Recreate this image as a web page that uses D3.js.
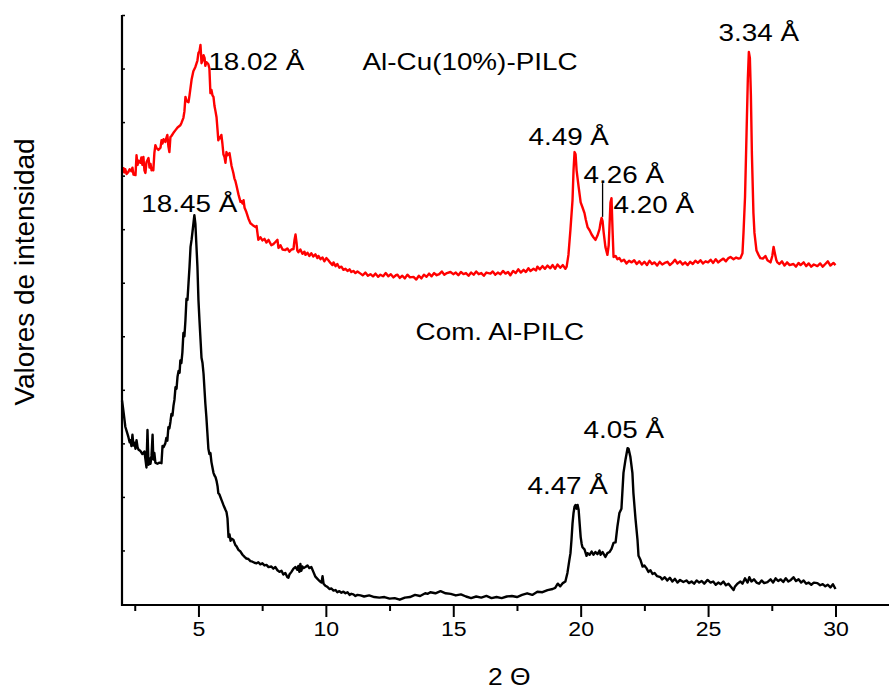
<!DOCTYPE html>
<html>
<head>
<meta charset="utf-8">
<script src="https://cdn.jsdelivr.net/npm/d3@7"></script>
<style>
  body { margin: 0; background: #fff; }
  svg { display: block; font-family: "Liberation Sans", Arial, sans-serif; }
</style>
</head>
<body>
<svg id="chart" width="889" height="690"></svg>
<script>
// XRD patterns, 2 theta (deg) vs intensity (arbitrary units, offset)

var comTheta = [2.00,2.03,2.07,2.13,2.20,2.25,2.30,2.33,2.37,2.41,2.45,2.49,2.53,2.57,2.61,2.65,2.72,2.80,2.88,2.92,
  2.96,3.00,3.04,3.08,3.12,3.16,3.20,3.23,3.27,3.31,3.39,3.47,3.55,3.59,3.63,3.70,3.74,3.78,3.82,3.86,
  3.90,3.94,3.98,4.02,4.06,4.10,4.14,4.18,4.22,4.26,4.29,4.33,4.37,4.41,4.45,4.49,4.53,4.57,4.61,4.65,
  4.69,4.73,4.79,4.84,4.88,4.92,4.96,5.00,5.04,5.08,5.12,5.16,5.20,5.27,5.31,5.35,5.39,5.43,5.47,5.51,
  5.55,5.59,5.63,5.67,5.71,5.75,5.78,5.82,5.90,5.98,6.06,6.10,6.14,6.18,6.22,6.26,6.30,6.37,6.45,6.49,
  6.57,6.65,6.73,6.81,6.88,6.96,7.04,7.12,7.20,7.28,7.35,7.43,7.51,7.59,7.67,7.75,7.86,7.94,8.02,8.10,
  8.18,8.26,8.33,8.41,8.49,8.53,8.57,8.65,8.73,8.81,8.88,8.92,8.96,9.00,9.04,9.08,9.12,9.20,9.28,9.35,
  9.43,9.51,9.59,9.67,9.75,9.83,9.87,9.91,9.98,10.06,10.14,10.22,10.30,10.38,10.45,10.53,10.61,10.69,10.77,10.85,
  10.93,11.00,11.08,11.16,11.24,11.36,11.5,11.7,11.9,12.1,12.3,12.5,12.7,12.9,13.1,13.3,13.5,13.7,13.9,14.0,
  14.1,14.3,14.5,14.7,14.9,15.1,15.3,15.5,15.7,15.9,16.1,16.3,16.5,16.7,16.9,17.1,17.3,17.5,17.7,17.9,
  18.1,18.3,18.5,18.7,18.9,19.0,19.1,19.2,19.3,19.4,19.48,19.55,19.60,19.64,19.68,19.72,19.76,19.80,19.84,19.88,
  19.92,19.96,20.00,20.04,20.07,20.15,20.23,20.27,20.35,20.43,20.50,20.58,20.66,20.74,20.78,20.86,20.97,21.05,21.13,21.21,
  21.29,21.37,21.44,21.52,21.60,21.68,21.76,21.84,21.88,21.95,22.03,22.07,22.15,22.23,22.27,22.35,22.43,22.50,22.58,22.66,
  22.74,22.82,22.90,23.00,23.13,23.20,23.30,23.40,23.50,23.60,23.70,23.80,23.90,24.03,24.15,24.25,24.35,24.45,24.55,24.65,
  24.75,24.85,24.98,25.10,25.20,25.30,25.40,25.50,25.60,25.70,25.80,25.88,26.00,26.05,26.15,26.27,26.35,26.45,26.55,26.62,
  26.70,26.80,26.90,27.00,27.10,27.20,27.33,27.45,27.55,27.65,27.75,27.85,27.95,28.05,28.15,28.25,28.35,28.45,28.55,28.65,
  28.75,28.85,28.95,29.05,29.15,29.29,29.40,29.50,29.60,29.70,29.80,29.90,30.00];
var comIntensity = [3.80,3.70,3.55,3.31,3.20,3.12,3.02,3.06,2.95,3.16,2.96,3.01,2.90,3.06,2.93,2.88,2.86,2.80,2.85,2.70,
  2.55,3.25,2.60,2.72,2.62,2.78,3.16,2.70,2.82,2.64,2.62,2.64,2.63,2.95,2.93,3.00,3.10,3.05,3.30,3.28,
  3.40,3.55,3.52,3.70,3.82,4.05,4.02,4.25,4.35,4.32,4.55,4.50,4.70,5.06,5.00,5.30,5.70,5.68,5.99,6.30,
  6.67,6.80,7.05,7.26,7.10,6.70,6.30,5.68,5.30,4.95,4.60,4.50,4.30,3.75,3.50,3.20,2.90,2.80,2.82,2.65,
  2.55,2.45,2.40,2.37,2.30,2.20,2.07,2.05,1.95,1.85,1.76,1.72,1.60,1.25,1.30,1.18,1.22,1.20,1.10,1.08,
  1.01,0.98,0.92,0.88,0.85,0.84,0.80,0.79,0.77,0.76,0.78,0.74,0.76,0.72,0.73,0.69,0.70,0.66,0.69,0.63,
  0.60,0.62,0.55,0.58,0.50,0.49,0.55,0.60,0.66,0.69,0.64,0.71,0.60,0.75,0.62,0.70,0.67,0.69,0.72,0.67,
  0.69,0.60,0.51,0.47,0.43,0.40,0.52,0.38,0.34,0.32,0.28,0.29,0.25,0.26,0.22,0.24,0.21,0.23,0.20,0.22,
  0.17,0.19,0.18,0.15,0.17,0.16,0.14,0.16,0.13,0.12,0.13,0.10,0.11,0.08,0.12,0.13,0.17,0.15,0.20,0.19,
  0.22,0.20,0.24,0.20,0.19,0.16,0.18,0.14,0.11,0.14,0.12,0.15,0.11,0.13,0.11,0.14,0.15,0.13,0.17,0.20,
  0.17,0.23,0.22,0.26,0.28,0.30,0.38,0.33,0.39,0.42,0.58,0.80,0.95,1.20,1.50,1.70,1.82,1.85,1.78,1.85,
  1.76,1.50,1.25,1.12,1.06,1.02,0.90,0.95,0.92,0.98,0.92,0.97,0.93,1.00,0.92,0.97,0.88,0.95,0.97,1.03,
  1.14,1.15,1.44,1.70,1.78,2.45,2.70,2.91,2.90,2.75,2.45,2.07,1.60,1.20,0.90,0.82,0.70,0.72,0.67,0.60,
  0.63,0.56,0.58,0.52,0.50,0.46,0.50,0.44,0.49,0.42,0.47,0.40,0.45,0.41,0.44,0.39,0.42,0.38,0.44,0.40,
  0.43,0.38,0.45,0.40,0.42,0.36,0.40,0.37,0.42,0.35,0.38,0.33,0.26,0.32,0.38,0.42,0.38,0.48,0.40,0.50,
  0.42,0.46,0.40,0.38,0.44,0.39,0.41,0.46,0.40,0.48,0.43,0.46,0.41,0.48,0.42,0.45,0.50,0.43,0.46,0.40,
  0.44,0.38,0.40,0.36,0.40,0.39,0.35,0.37,0.33,0.36,0.31,0.37,0.28];

var cuTheta = [2.00,2.06,2.10,2.13,2.18,2.25,2.30,2.37,2.41,2.45,2.53,2.57,2.61,2.65,2.72,2.76,2.80,2.84,2.88,2.92,
  2.96,3.04,3.08,3.12,3.16,3.20,3.23,3.27,3.31,3.35,3.39,3.43,3.51,3.55,3.59,3.63,3.70,3.74,3.78,3.82,
  3.86,3.90,3.94,4.02,4.10,4.18,4.29,4.33,4.41,4.45,4.49,4.53,4.57,4.61,4.65,4.73,4.80,4.88,4.96,5.00,
  5.04,5.08,5.12,5.16,5.20,5.24,5.27,5.31,5.35,5.39,5.43,5.47,5.51,5.55,5.59,5.63,5.67,5.71,5.75,5.78,
  5.82,5.86,5.90,5.94,5.98,6.02,6.06,6.10,6.14,6.18,6.22,6.26,6.30,6.37,6.41,6.45,6.49,6.57,6.65,6.69,
  6.73,6.77,6.81,6.88,6.96,7.04,7.12,7.24,7.28,7.35,7.43,7.51,7.59,7.67,7.75,7.86,7.94,8.02,8.10,8.14,
  8.22,8.30,8.41,8.49,8.57,8.65,8.73,8.77,8.81,8.85,8.88,8.92,9.00,9.08,9.16,9.20,9.28,9.35,9.43,9.51,
  9.59,9.67,9.71,9.79,9.87,9.94,10.02,10.10,10.18,10.26,10.30,10.38,10.45,10.53,10.61,10.69,10.77,10.85,10.93,11.00,
  11.08,11.16,11.24,11.36,11.45,11.55,11.65,11.75,11.85,11.95,12.05,12.14,12.25,12.35,12.45,12.55,12.65,12.75,12.81,12.90,
  13.00,13.10,13.20,13.30,13.44,13.55,13.65,13.75,13.85,13.95,14.05,14.15,14.25,14.35,14.45,14.55,14.65,14.75,14.89,15.00,
  15.10,15.20,15.30,15.40,15.50,15.60,15.70,15.80,15.90,16.00,16.10,16.20,16.30,16.46,16.55,16.65,16.75,16.85,16.95,17.05,
  17.15,17.24,17.35,17.45,17.55,17.65,17.76,17.85,17.95,18.03,18.15,18.25,18.30,18.40,18.50,18.60,18.70,18.81,18.90,19.00,
  19.09,19.20,19.30,19.40,19.45,19.52,19.60,19.68,19.72,19.76,19.80,19.84,19.92,20.00,20.07,20.15,20.20,20.27,20.35,20.43,
  20.50,20.58,20.66,20.74,20.78,20.82,20.86,20.90,20.97,21.05,21.10,21.17,21.21,21.25,21.29,21.37,21.44,21.52,21.60,21.70,
  21.80,21.90,22.00,22.10,22.20,22.30,22.40,22.50,22.60,22.70,22.80,22.90,23.00,23.10,23.20,23.30,23.41,23.50,23.60,23.70,
  23.80,23.90,24.00,24.10,24.20,24.30,24.40,24.50,24.60,24.70,24.80,24.90,25.00,25.10,25.20,25.30,25.40,25.50,25.60,25.70,
  25.80,25.88,26.00,26.10,26.20,26.27,26.35,26.39,26.45,26.51,26.56,26.60,26.64,26.68,26.72,26.78,26.82,26.90,26.98,27.05,
  27.15,27.25,27.33,27.45,27.52,27.57,27.62,27.68,27.72,27.80,27.90,28.00,28.10,28.20,28.35,28.45,28.55,28.63,28.75,28.85,
  28.95,29.05,29.15,29.29,29.40,29.50,29.60,29.70,29.80,29.92,30.00];
var cuIntensity = [8.05,8.14,8.06,8.12,8.03,8.07,8.12,8.08,8.15,8.02,8.01,8.38,8.20,8.28,8.24,8.34,8.20,8.35,8.10,8.05,
  8.25,8.33,8.15,8.22,8.10,8.12,8.10,8.42,8.57,8.52,8.50,8.48,8.52,8.66,8.60,8.68,8.63,8.70,8.76,8.55,
  8.44,8.72,8.74,8.80,8.85,8.90,8.94,8.98,9.08,9.20,9.47,9.40,9.38,9.37,9.50,9.79,9.95,10.03,10.15,10.29,
  10.32,10.44,10.10,10.15,10.25,10.20,10.05,10.12,10.10,10.08,10.00,9.54,9.60,9.50,9.47,9.30,9.20,9.09,8.85,8.66,
  8.72,8.70,8.76,8.60,8.40,8.35,8.24,8.44,8.38,8.40,8.42,8.30,8.18,8.05,7.95,7.90,7.82,7.65,7.51,7.52,
  7.48,7.54,7.40,7.32,7.20,7.11,7.08,7.04,7.06,6.80,6.85,6.79,6.82,6.75,6.80,6.70,6.72,6.76,6.80,6.65,
  6.70,6.62,6.61,6.64,6.58,6.62,6.63,6.80,6.90,6.75,6.60,6.57,6.62,6.54,6.58,6.52,6.56,6.50,6.55,6.49,
  6.53,6.46,6.50,6.44,6.47,6.40,6.46,6.42,6.37,6.33,6.38,6.31,6.35,6.28,6.30,6.24,6.26,6.22,6.25,6.20,
  6.22,6.18,6.21,6.17,6.14,6.19,6.13,6.16,6.12,6.17,6.11,6.15,6.12,6.18,6.12,6.16,6.10,6.14,6.15,6.09,
  6.13,6.08,6.15,6.10,6.11,6.06,6.13,6.08,6.15,6.11,6.17,6.12,6.18,6.14,6.16,6.21,6.15,6.18,6.20,6.16,
  6.19,6.14,6.20,6.16,6.18,6.13,6.19,6.15,6.21,6.16,6.18,6.13,6.19,6.17,6.21,6.15,6.19,6.16,6.22,6.17,
  6.20,6.14,6.22,6.18,6.25,6.19,6.24,6.20,6.27,6.22,6.26,6.23,6.30,6.25,6.31,6.26,6.32,6.27,6.33,6.26,
  6.34,6.28,6.33,6.26,6.30,6.52,7.00,7.54,8.10,8.44,8.40,8.10,7.79,7.50,7.41,7.30,7.18,7.04,6.98,6.90,
  6.85,6.80,6.88,7.00,7.12,7.21,7.15,6.95,6.67,6.52,6.70,7.50,7.58,7.00,6.48,6.50,6.44,6.46,6.40,6.43,
  6.36,6.41,6.38,6.42,6.35,6.40,6.34,6.39,6.33,6.41,6.35,6.38,6.32,6.39,6.34,6.37,6.39,6.33,6.37,6.43,
  6.36,6.40,6.34,6.38,6.33,6.39,6.35,6.41,6.37,6.42,6.36,6.40,6.38,6.43,6.37,6.44,6.38,6.42,6.45,6.40,
  6.46,6.48,6.44,6.47,6.45,6.46,6.55,6.93,7.60,8.80,9.80,10.31,10.20,9.50,8.40,7.30,6.93,6.60,6.52,6.46,
  6.45,6.50,6.42,6.38,6.50,6.67,6.55,6.42,6.38,6.35,6.40,6.32,6.38,6.33,6.35,6.30,6.37,6.33,6.38,6.31,
  6.36,6.30,6.34,6.31,6.36,6.30,6.35,6.40,6.32,6.37,6.33];

// peak labels, anchored at their left baseline in data units
var labelText = ["18.02 Å", "Al-Cu(10%)-PILC", "3.34 Å", "4.49 Å", "4.26 Å", "4.20 Å",
                 "18.45 Å", "Com. Al-PILC", "4.05 Å", "4.47 Å"];
var labelTheta = [5.39, 11.44, 25.41, 17.95, 20.11, 21.29, 2.76, 13.52, 20.11, 17.91];
var labelIntensity = [9.97, 9.97, 10.51, 8.57, 7.86, 7.30, 7.32, 4.93, 3.10, 2.05];

// leader for the 4.26 Å shoulder
var leaderTheta = 20.86;
var leaderFrom = 7.86, leaderTo = 7.23;

var majorTicks = [5, 10, 15, 20, 25, 30];
var minorTicks = [2.5, 7.5, 12.5, 17.5, 22.5, 27.5];
var yTicks = d3.range(1, 12);

var svg = d3.select("#chart");
var plotLeft = 122, plotRight = 889, plotTop = 15, plotBottom = 604;

var x = d3.scaleLinear().domain([2, 32.1]).range([plotLeft, plotRight]);
var y = d3.scaleLinear().domain([0, 11]).range([plotBottom, plotTop]);

var line = d3.line()
    .x(function(d){ return x(d[0]); })
    .y(function(d){ return y(d[1]); });

function drawSeries(theta, vals, color){
    svg.append("path")
        .datum(d3.zip(theta, vals))
        .attr("fill", "none")
        .attr("stroke", color)
        .attr("stroke-width", 2.4)
        .attr("stroke-linejoin", "round")
        .attr("d", line);
}

drawSeries(cuTheta, cuIntensity, "#ff0000");
drawSeries(comTheta, comIntensity, "#000000");

// x axis: major ticks with labels, minor ticks without
var xMajor = svg.append("g")
    .attr("transform", "translate(0," + (plotBottom + 1) + ")")
    .call(d3.axisBottom(x).tickValues(majorTicks).tickSize(12).tickFormat(d3.format("d")));
xMajor.select(".domain").remove();
xMajor.selectAll("line").attr("stroke-width", 2);
xMajor.selectAll("text")
    .attr("font-size", 21)
    .attr("font-family", "Liberation Sans, Arial, sans-serif")
    .attr("fill", "#000")
    .attr("dy", null)
    .attr("y", 31)
    .attr("transform", "scale(1.1,1)");

var xMinor = svg.append("g")
    .attr("transform", "translate(0," + (plotBottom + 1) + ")")
    .call(d3.axisBottom(x).tickValues(minorTicks).tickSize(6).tickFormat(""));
xMinor.select(".domain").remove();
xMinor.selectAll("line").attr("stroke-width", 2);

// y axis: short inner ticks, no labels
var yAxis = svg.append("g")
    .attr("transform", "translate(" + plotLeft + ",0)")
    .call(d3.axisRight(y).tickValues(yTicks).tickSize(3).tickFormat(""));
yAxis.select(".domain").remove();
yAxis.selectAll("line").attr("stroke-width", 1.5);

// axis lines
svg.append("line")
    .attr("x1", plotLeft - 1).attr("x2", plotRight)
    .attr("y1", plotBottom + 1).attr("y2", plotBottom + 1)
    .attr("stroke", "#000").attr("stroke-width", 2.2);
svg.append("line")
    .attr("x1", plotLeft).attr("x2", plotLeft)
    .attr("y1", plotTop).attr("y2", plotBottom + 2)
    .attr("stroke", "#000").attr("stroke-width", 2.2);

// leader line
svg.append("line")
    .attr("x1", x(leaderTheta)).attr("x2", x(leaderTheta))
    .attr("y1", y(leaderFrom)).attr("y2", y(leaderTo))
    .attr("stroke", "#000").attr("stroke-width", 1.3);

// labels (slightly wide lettering, as in the original)
labelText.forEach(function(t, i){
    svg.append("text")
        .attr("transform", "translate(" + x(labelTheta[i]) + "," + y(labelIntensity[i]) + ") scale(1.16,1)")
        .attr("font-size", 24)
        .attr("fill", "#000")
        .text(t);
});

// axis titles
svg.append("text")
    .attr("transform", "translate(34,272) rotate(-90)")
    .attr("text-anchor", "middle")
    .attr("font-size", 28)
    .attr("fill", "#000")
    .text("Valores de intensidad");

svg.append("text")
    .attr("transform", "translate(488,685) scale(1.1,1)")
    .attr("font-size", 24)
    .attr("fill", "#000")
    .text("2 Θ");
</script>
</body>
</html>
